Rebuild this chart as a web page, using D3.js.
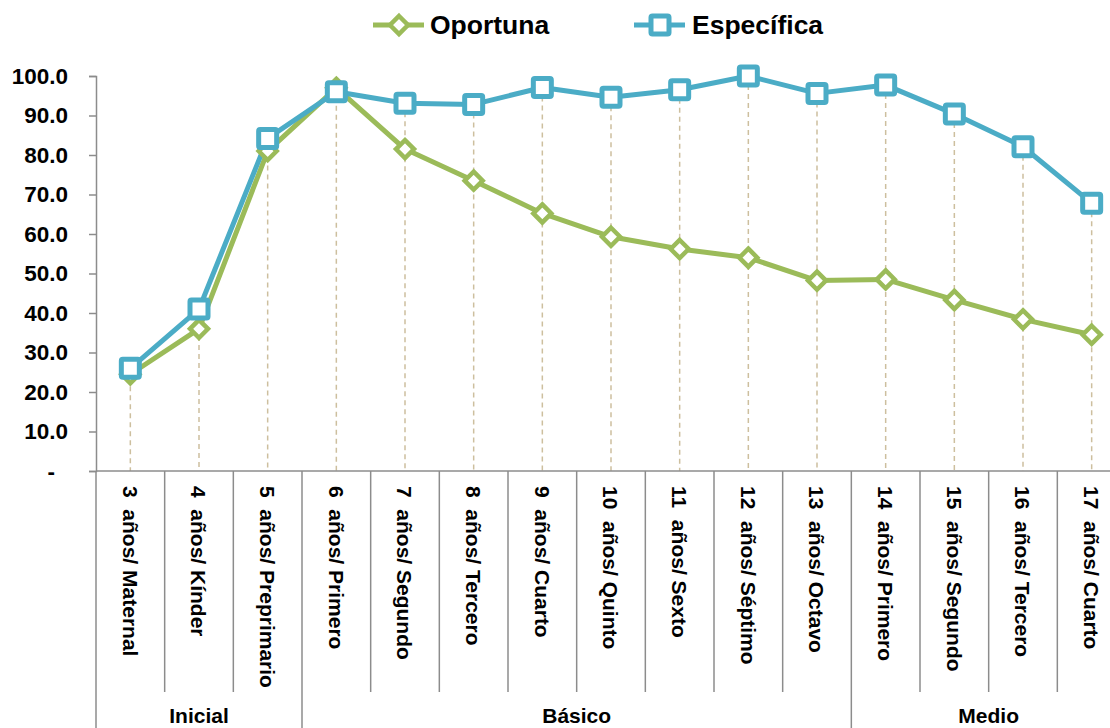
<!DOCTYPE html>
<html>
<head>
<meta charset="utf-8">
<script src="https://cdn.jsdelivr.net/npm/d3@7"></script>
<style>
  body { margin: 0; background: #fff; }
  text { font-family: "Liberation Sans", Arial, sans-serif; font-weight: bold; fill: #000; }
</style>
</head>
<body>
<div id="chart"></div>
<script>
const categories = ["3  años/ Maternal", "4  años/ Kínder", "5  años/ Preprimario", "6  años/ Primero",
  "7  años/ Segundo", "8  años/ Tercero", "9  años/ Cuarto", "10  años/ Quinto", "11  años/ Sexto",
  "12  años/ Séptimo", "13  años/ Octavo", "14  años/ Primero", "15  años/ Segundo", "16  años/ Tercero",
  "17  años/ Cuarto"];
const oportuna = [24.5, 36.0, 81.0, 97.0, 81.5, 73.5, 65.2, 59.3, 56.2, 54.0, 48.2, 48.5, 43.3, 38.4, 34.5];
const especifica = [26.0, 41.0, 84.2, 96.0, 93.1, 92.8, 97.1, 94.6, 96.5, 100.0, 95.6, 97.7, 90.4, 82.1, 67.8];
const groups = [
  {name: "Inicial", from: 0, to: 2},
  {name: "Básico", from: 3, to: 10},
  {name: "Medio", from: 11, to: 14}
];
const yTicks = [0, 10, 20, 30, 40, 50, 60, 70, 80, 90, 100];

const width = 1110, height = 728;
const green = "#9BBB59", blue = "#4BACC6", axisGray = "#8c8c8c";

const svg = d3.select("#chart").append("svg")
  .attr("width", width)
  .attr("height", height);

// scales
const x = d3.scaleBand().domain(d3.range(categories.length)).range([96, 1126]).padding(0);
const y = d3.scaleLinear().domain([0, 100]).range([471, 76]);
const cx = i => x(i) + x.bandwidth() / 2;

// y axis
const yAxis = svg.append("g")
  .attr("transform", "translate(96,0)")
  .call(d3.axisLeft(y).tickValues(yTicks).tickSize(7).tickPadding(21)
    .tickFormat(d => d === 0 ? "-" : d.toFixed(1)));
yAxis.select(".domain").attr("stroke", axisGray).attr("stroke-width", 1.5);
yAxis.selectAll(".tick line").attr("stroke", axisGray).attr("stroke-width", 1.5);
yAxis.selectAll(".tick text").style("font-size", "22.5px").attr("fill", "#000")
  .style("font-family", "Liberation Sans, Arial, sans-serif").style("font-weight", "bold");
// accounting style dash for zero sits further left
yAxis.selectAll(".tick text").filter(d => d === 0).attr("dx", -13);

// drop lines
svg.append("g").selectAll("line")
  .data(categories.map((c, i) => i))
  .join("line")
  .attr("x1", cx).attr("x2", cx)
  .attr("y1", i => y(Math.max(oportuna[i], especifica[i])))
  .attr("y2", y(0))
  .attr("stroke", "#CDBF9E")
  .attr("stroke-width", 1.5)
  .attr("stroke-dasharray", "5,4");

// x axis line
svg.append("line")
  .attr("x1", 96).attr("x2", 1126)
  .attr("y1", y(0)).attr("y2", y(0))
  .attr("stroke", axisGray).attr("stroke-width", 1.5);

// category separators
const groupStarts = groups.map(g => g.from);
const seps = d3.range(categories.length + 1);
svg.append("g").selectAll("line")
  .data(seps)
  .join("line")
  .attr("x1", i => 96 + i * x.bandwidth())
  .attr("x2", i => 96 + i * x.bandwidth())
  .attr("y1", y(0))
  .attr("y2", i => (groupStarts.includes(i) || i === categories.length) ? height : 692)
  .attr("stroke", axisGray).attr("stroke-width", 1.5);

// category labels (rotated)
svg.append("g").selectAll("text")
  .data(categories)
  .join("text")
  .attr("transform", (d, i) => `translate(${cx(i)}, 486) rotate(90)`)
  .attr("dy", "0.36em")
  .style("font-size", "21px")
  .style("white-space", "pre")
  .attr("xml:space", "preserve")
  .text(d => d);

// group labels
svg.append("g").selectAll("text")
  .data(groups)
  .join("text")
  .attr("x", g => (x(g.from) + x(g.to) + x.bandwidth()) / 2)
  .attr("y", 723)
  .attr("text-anchor", "middle")
  .style("font-size", "21px")
  .text(g => g.name);

// lines
const line = d3.line().x((d, i) => cx(i)).y(d => y(d));
svg.append("path").datum(oportuna)
  .attr("fill", "none").attr("stroke", green).attr("stroke-width", 5)
  .attr("stroke-linejoin", "round").attr("d", line);
svg.append("path").datum(especifica)
  .attr("fill", "none").attr("stroke", blue).attr("stroke-width", 5)
  .attr("stroke-linejoin", "round").attr("d", line);

// markers
const diamond = "M0,-9L9,0L0,9L-9,0Z";
svg.append("g").selectAll("path")
  .data(oportuna)
  .join("path")
  .attr("transform", (d, i) => `translate(${cx(i)},${y(d)})`)
  .attr("d", diamond)
  .attr("fill", "#fff").attr("stroke", green).attr("stroke-width", 4.5);
svg.append("g").selectAll("rect")
  .data(especifica)
  .join("rect")
  .attr("x", (d, i) => cx(i) - 9).attr("y", d => y(d) - 9)
  .attr("width", 18).attr("height", 18).attr("rx", 1.5)
  .attr("fill", "#fff").attr("stroke", blue).attr("stroke-width", 5);

// legend
const legend = svg.append("g");
legend.append("line").attr("x1", 373).attr("x2", 424).attr("y1", 25).attr("y2", 25)
  .attr("stroke", green).attr("stroke-width", 5);
legend.append("path").attr("transform", "translate(399,25)").attr("d", diamond)
  .attr("fill", "#fff").attr("stroke", green).attr("stroke-width", 4.5);
legend.append("text").attr("x", 430).attr("y", 34).style("font-size", "26.5px").text("Oportuna");
legend.append("line").attr("x1", 634).attr("x2", 685).attr("y1", 25).attr("y2", 25)
  .attr("stroke", blue).attr("stroke-width", 5);
legend.append("rect").attr("x", 651).attr("y", 16).attr("width", 18).attr("height", 18).attr("rx", 1.5)
  .attr("fill", "#fff").attr("stroke", blue).attr("stroke-width", 5);
legend.append("text").attr("x", 692).attr("y", 34).style("font-size", "26.5px").text("Específica");
</script>
</body>
</html>
